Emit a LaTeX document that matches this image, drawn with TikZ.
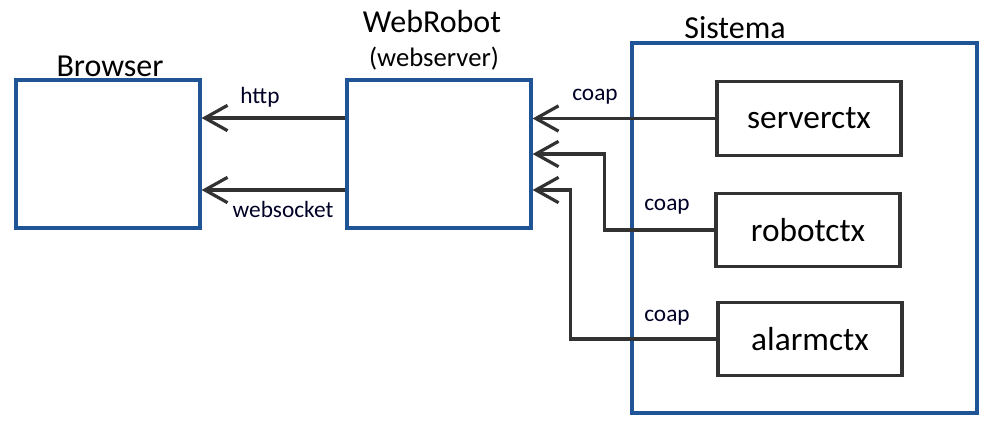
\documentclass[tikz,border=0pt]{standalone}
\usepackage{fontspec}
\setmainfont{Carlito}
\usetikzlibrary{arrows.meta,calc}
\definecolor{boxblue}{RGB}{31,85,150}
\definecolor{linegray}{RGB}{50,50,50}
\tikzset{
  bluebox/.style={draw=boxblue,line width=2.4pt,rectangle,inner sep=0pt},
  ctxbox/.style={draw=linegray,line width=2.4pt,rectangle,inner sep=0pt,font=\fontsize{25}{29}\selectfont,minimum width=138pt,minimum height=55pt},
  conn/.style={draw=linegray,line width=2.4pt,-{Straight Barb[length=17pt,width=19pt,line width=2.4pt]}},
  title/.style={font=\fontsize{24}{28}\selectfont,inner sep=0pt},
  lbl/.style={font=\fontsize{17.5}{20}\selectfont,inner sep=0pt,text=black!85!blue}
}
\begin{document}
\begin{tikzpicture}[x=0.75pt,y=-0.75pt]
\useasboundingbox (0,0) rectangle (998,437);
\node[bluebox,minimum width=138pt,minimum height=111pt] (br) at (108,154) {};
\node[bluebox,minimum width=138pt,minimum height=111pt] (web) at (439,154) {};
\node[bluebox,minimum width=258.75pt,minimum height=277.5pt] (sis) at (804.5,228) {};
\node[ctxbox] (srv) at (809,118.5) {serverctx};
\node[ctxbox] (rob) at (808,230) {robotctx};
\node[ctxbox] (alm) at (810,339) {alarmctx};
\node[title] (tbr) at (110,66) {Browser};
\node[title] (tweb) at (432,22) {WebRobot};
\node[font=\fontsize{20}{24}\selectfont,inner sep=0pt] (tweb2) at (434,59) {(webserver)};
\node[title] (tsis) at (735,28) {Sistema};
\draw[conn] ([yshift=27pt]web.west) -- ([yshift=27pt]br.east);
\draw[conn] ([yshift=-27pt]web.west) -- ([yshift=-27pt]br.east);
\draw[conn] (srv.west) -- (web.east |- srv.west);
\draw[conn] (rob.west) -- ++(-110,0) |- (web.east);
\draw[conn] (alm.west) -- ++(-146,0) |- ([yshift=-27pt]web.east);
\node[lbl] (l1) at (260,97) {http};
\node[lbl] (l2) at (283,209) {websocket};
\node[lbl] (l3) at (595,97) {coap};
\node[lbl] (l4) at (667,207) {coap};
\node[lbl] (l5) at (667,318) {coap};
\end{tikzpicture}
\end{document}
